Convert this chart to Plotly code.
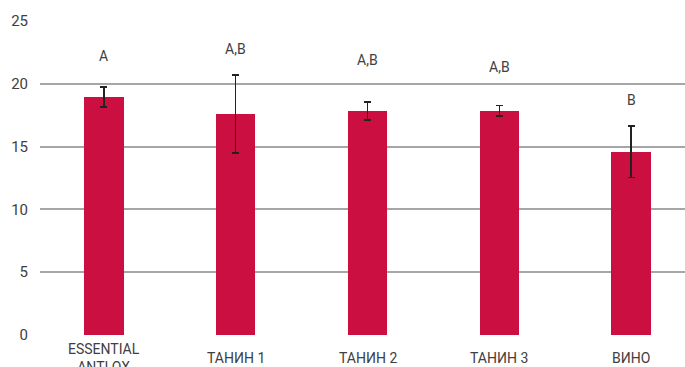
import plotly.graph_objects as go

categories = ["ESSENTIAL<br>ANTI OX", "ТАНИН 1", "ТАНИН 2", "ТАНИН 3", "ВИНО"]
values = [18.95, 17.6, 17.84, 17.84, 14.58]
errors = [0.8, 3.1, 0.73, 0.42, 2.05]
letters = ["A", "A,B", "A,B", "A,B", "B"]
letter_y = [22.2, 22.75, 21.9, 21.3, 18.7]
y_ticks = [0, 5, 10, 15, 20, 25]

FONT = "Liberation Sans Narrow, Roboto, sans-serif"
x_idx = list(range(len(categories)))

fig = go.Figure()
fig.add_trace(go.Bar(
    x=x_idx, y=values, width=0.30,
    marker=dict(color="#cc0f41", line=dict(width=0)),
    error_y=dict(type="data", array=errors, visible=True,
                 color="#222222", thickness=1.5, width=3.5),
    showlegend=False,
))

for i, (lab, ly) in enumerate(zip(letters, letter_y)):
    fig.add_annotation(x=i, y=ly, text=lab, showarrow=False,
                       font=dict(family=FONT, size=14, color="#404040"),
                       xanchor="center", yanchor="middle")

for i, cat in enumerate(categories):
    fig.add_annotation(x=i, xref="x", y=-0.073, yref="paper", text=cat,
                       showarrow=False, xanchor="center", yanchor="middle",
                       font=dict(family=FONT, size=14, color="#404040"))

fig.update_layout(
    width=685, height=367,
    margin=dict(l=40, r=0, t=21, b=32, pad=0),
    plot_bgcolor="white", paper_bgcolor="white",
    bargap=0,
    xaxis=dict(range=[-0.485, 4.409], showticklabels=False, showgrid=False,
               zeroline=False, showline=False, ticks=""),
    yaxis=dict(range=[0, 25], tickvals=y_ticks, showgrid=True,
               gridcolor="#a6a6a6", gridwidth=1.5, zeroline=False,
               showline=False, ticks="", ticklabelstandoff=11,
               tickfont=dict(family=FONT, size=15, color="#404040")),
)

fig.write_html("out.html")
